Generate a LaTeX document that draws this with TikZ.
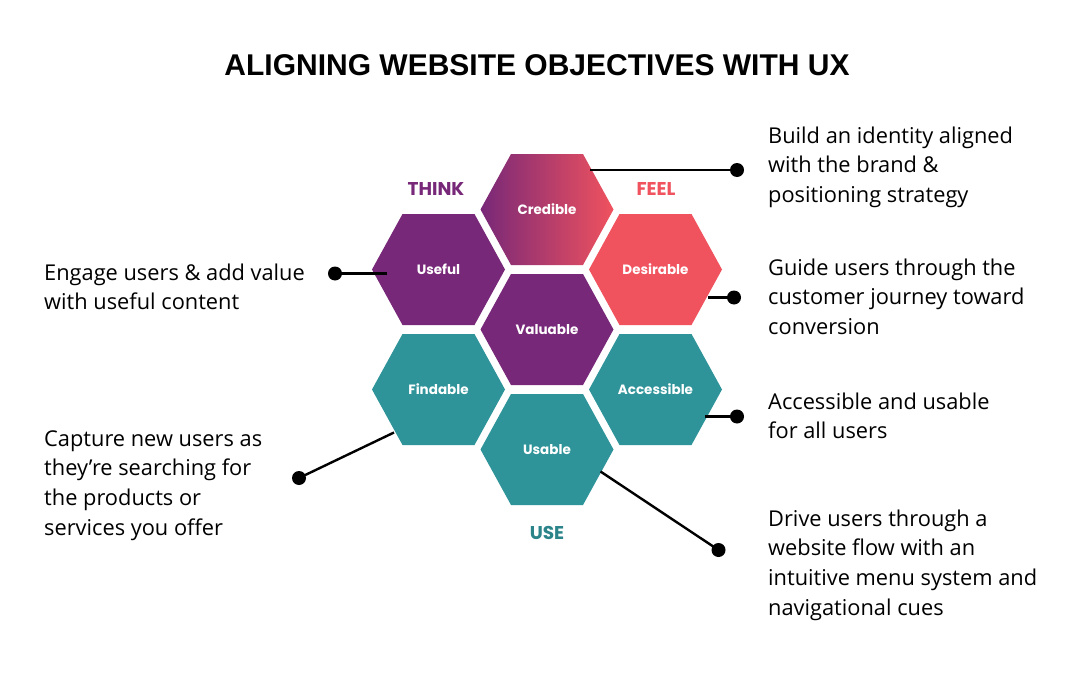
\documentclass[tikz,border=0pt]{standalone}
\usepackage{fontspec}
\setmainfont{Open Sans}
\newfontfamily\hexfont{Poppins}
\newfontfamily\titlefont{Liberation Sans}
\usetikzlibrary{calc}
\definecolor{uxpurple}{HTML}{782878}
\definecolor{uxcoral}{HTML}{F0525E}
\definecolor{uxteal}{HTML}{2E9499}
\definecolor{uxtealtext}{HTML}{2A8489}
\newcommand\hexshape[1]{(#1) ++(-66.5,0) -- ++(30.5,-55.5) -- ++(72,0) -- ++(30.5,55.5) -- ++(-30.5,55.5) -- ++(-72,0) -- cycle}
\begin{document}
\begin{tikzpicture}[x=1pt,y=-1pt,
  hexlabel/.style={text=white, font=\hexfont\bfseries\fontsize{13.5}{16}\selectfont, inner sep=0},
  zone/.style={font=\hexfont\bfseries\fontsize{18.5}{20}\selectfont, inner sep=0, anchor=base},
  body/.style={anchor=base west, inner sep=0, align=left, font=\fontsize{21.8}{29.8}\selectfont},
  dot/.style={circle, fill=black, minimum size=14pt, inner sep=0},
  conn/.style={line width=2.4pt, black}]
\useasboundingbox[fill=white] (0,0) rectangle (1080,680);

% title
\node[anchor=base, inner sep=0, font=\titlefont\bfseries\fontsize{30}{32}\selectfont] (title) at (537,75) {ALIGNING WEBSITE OBJECTIVES WITH UX};

% hexagon centres
\coordinate (cC) at (547,209.5);
\coordinate (cU) at (438.5,269.5);
\coordinate (cD) at (655.5,269.5);
\coordinate (cV) at (547,329.5);
\coordinate (cF) at (438.5,389.5);
\coordinate (cA) at (655.5,389.5);
\coordinate (cS) at (547,449.5);

\shade[left color=uxpurple, right color=uxcoral] \hexshape{cC};
\fill[uxpurple] \hexshape{cU};
\fill[uxcoral] \hexshape{cD};
\fill[uxpurple] \hexshape{cV};
\fill[uxteal] \hexshape{cF};
\fill[uxteal] \hexshape{cA};
\fill[uxteal] \hexshape{cS};

\node[hexlabel] (credible) at (cC) {Credible};
\node[hexlabel] (useful) at (cU) {Useful};
\node[hexlabel] (desirable) at (cD) {Desirable};
\node[hexlabel] (valuable) at (cV) {Valuable};
\node[hexlabel] (findable) at (cF) {Findable};
\node[hexlabel] (accessible) at (cA) {Accessible};
\node[hexlabel] (usable) at (cS) {Usable};

% zone labels
\node[zone, text=uxpurple] (think) at (436,195) {THINK};
\node[zone, text=uxcoral] (feel) at (656,195) {FEEL};
\node[zone, text=uxtealtext] (use) at (547,539) {USE};

% connector ends on hexagons
\coordinate (eC) at (590,170);
\coordinate (eU) at (387,273.5);
\coordinate (eD) at (708,297.5);
\coordinate (eA) at (705,416.5);
\coordinate (eS) at (600.5,471.5);
\coordinate (eF) at (394,432.5);

% dots
\node[dot] (dC) at (737,170) {};
\node[dot] (dU) at (335,273.5) {};
\node[dot] (dD) at (734,297.5) {};
\node[dot] (dA) at (737,416.5) {};
\node[dot] (dS) at (718.5,550) {};
\node[dot] (dF) at (299,478) {};

\draw[conn] (eC) -- (dC.center);
\draw[conn] (eU) -- (dU.center);
\draw[conn] (eD) -- (dD.center);
\draw[conn] (eA) -- (dA.center);
\draw[conn] (eS) -- (dS.center);
\draw[conn] (eF) -- (dF.center);

% texts (anchored at the baseline of the last line)
\node[body] (tC) at (768,202.6) {Build an identity aligned\\with the brand \&\\positioning strategy};
\node[body] (tD) at (768,334.6) {Guide users through the\\customer journey toward\\conversion};
\node[body] (tA) at (768,438.8) {Accessible and usable\\for all users};
\node[body] (tS) at (768,615.4) {Drive users through a\\website flow with an\\intuitive menu system and\\navigational cues};
\node[body] (tU) at (44,309.8) {Engage users \& add value\\with useful content};
\node[body] (tF) at (44,535.4) {Capture new users as\\they’re searching for\\the products or\\services you offer};
\end{tikzpicture}
\end{document}
